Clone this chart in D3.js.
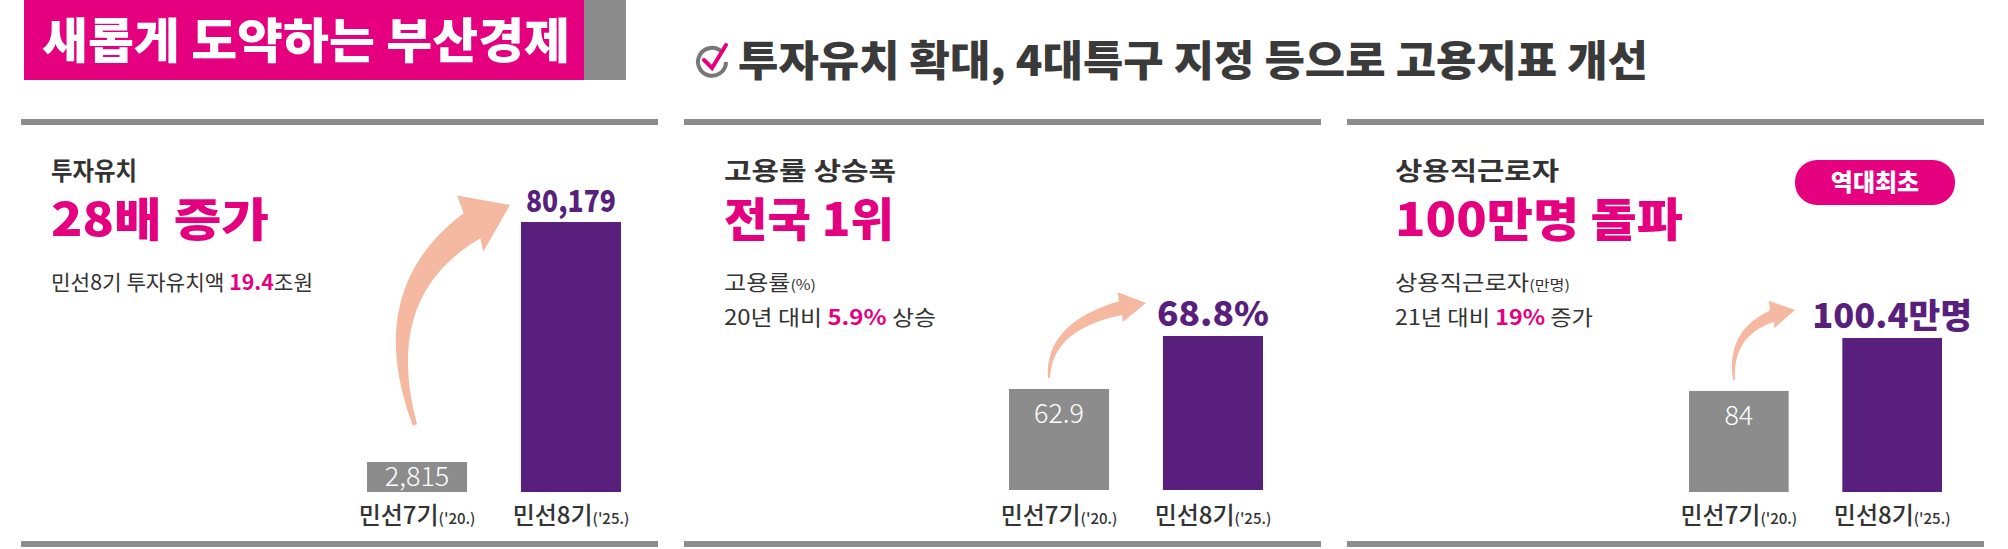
<!DOCTYPE html>
<html><head><meta charset="utf-8">
<script src="https://cdn.jsdelivr.net/npm/d3@7"></script>
<style>
body{margin:0;background:#fff;}
text{font-family:"Noto Sans CJK KR","Noto Sans",sans-serif;}
</style></head>
<body>
<svg id="chart" width="2008" height="549"></svg>
<script>
// data
var categories = ["민선7기", "민선8기"];
var catYears = ["('20.)", "('25.)"];
var investValues = [2815, 80179];
var investLabels = ["2,815", "80,179"];
var employValues = [62.9, 68.8];
var employLabels = ["62.9", "68.8%"];
var workerValues = [84, 100.4];
var workerLabels = ["84", "100.4만명"];

var pink = "#e4007f", purple = "#581f7c", gray = "#8c8c8c", dark = "#333", peach = "#f4b9a0";

var svg = d3.select("#chart");

// header
svg.append("rect").attr("x", 24).attr("y", 0).attr("width", 560).attr("height", 80).attr("fill", pink);
svg.append("rect").attr("x", 584).attr("y", 0).attr("width", 42).attr("height", 80).attr("fill", gray);
svg.append("text").attr("x", 42).attr("y", 58).attr("fill", "#fff")
  .attr("font-size", 48).attr("font-weight", 900)
  .attr("textLength", 528).attr("lengthAdjust", "spacingAndGlyphs")
  .text("새롭게 도약하는 부산경제");

// check icon
svg.append("path").attr("d", "M722,52 A14,14 0 1 0 726,62").attr("fill", "none")
  .attr("stroke", "#777").attr("stroke-width", 4);
svg.append("path").attr("d", "M704,60 L712,68 L726,45").attr("fill", "none")
  .attr("stroke", pink).attr("stroke-width", 4).attr("stroke-linecap", "round");
svg.append("text").attr("x", 738).attr("y", 76).attr("fill", "#3a3a3a")
  .attr("font-size", 42).attr("font-weight", 900)
  .attr("textLength", 910).attr("lengthAdjust", "spacingAndGlyphs")
  .text("투자유치 확대, 4대특구 지정 등으로 고용지표 개선");

// curved arrow shape
function arrow(g, p0, c, p1, shaftW, headL, headW) {
  function bez(t) {
    var u = 1 - t;
    return [u*u*p0[0] + 2*u*t*c[0] + t*t*p1[0], u*u*p0[1] + 2*u*t*c[1] + t*t*p1[1]];
  }
  var end = bez(1), pre = bez(0.97);
  var dx = end[0] - pre[0], dy = end[1] - pre[1], len = Math.hypot(dx, dy);
  dx /= len; dy /= len;
  var base = [end[0] - dx*headL, end[1] - dy*headL];
  var tEnd = 1, best = 1e9;
  for (var t = 0.5; t <= 1; t += 0.005) {
    var q = bez(t), dd = Math.hypot(q[0]-base[0], q[1]-base[1]);
    if (dd < best) { best = dd; tEnd = t; }
  }
  var left = [], right = [], n = 40;
  for (var i = 0; i <= n; i++) {
    var tt = tEnd * i / n, a = bez(tt), b = bez(Math.min(tt + 0.01, 1));
    var tx = b[0]-a[0], ty = b[1]-a[1], l = Math.hypot(tx, ty);
    var nx = -ty/l, ny = tx/l, w = shaftW * (0.15 + 0.85 * i / n) / 2;
    left.push([a[0] + nx*w, a[1] + ny*w]);
    right.push([a[0] - nx*w, a[1] - ny*w]);
  }
  var nx2 = -dy, ny2 = dx;
  var pts = left.concat([[base[0] + nx2*headW/2, base[1] + ny2*headW/2], end,
    [base[0] - nx2*headW/2, base[1] - ny2*headW/2]], right.reverse());
  g.append("path").attr("d", d3.line()(pts) + "Z").attr("fill", peach);
}

function panel(opt) {
  var g = svg.append("g");
  g.append("rect").attr("x", opt.x0).attr("y", 119).attr("width", opt.x1 - opt.x0).attr("height", 6).attr("fill", gray);
  g.append("rect").attr("x", opt.x0).attr("y", 541).attr("width", opt.x1 - opt.x0).attr("height", 6).attr("fill", gray);
  var tx = opt.tx;
  g.append("text").attr("x", tx).attr("y", 180).attr("font-size", 25).attr("font-weight", 700).attr("fill", dark)
    .attr("textLength", opt.t1w).attr("lengthAdjust", "spacingAndGlyphs").text(opt.t1);
  g.append("text").attr("x", tx).attr("y", 236).attr("font-size", 46).attr("font-weight", 900).attr("fill", pink)
    .attr("textLength", opt.t2w).attr("lengthAdjust", "spacingAndGlyphs").text(opt.t2);
  opt.lines.forEach(function(ln, i) {
    var t = g.append("text").attr("x", tx).attr("y", 290 + i * 35).attr("font-size", 21).attr("fill", dark)
      .attr("textLength", ln.w).attr("lengthAdjust", "spacingAndGlyphs");
    ln.parts.forEach(function(p) {
      t.append("tspan").attr("fill", p.c || dark).attr("font-weight", p.b ? 700 : 400)
        .attr("font-size", p.s || 21).text(p.t);
    });
  });

  var x = d3.scaleBand().domain(categories).range([opt.bx0, opt.bx1]).paddingInner(0.35).paddingOuter(0);
  var y = d3.scaleLinear().domain(opt.domain).range([opt.base, opt.top]);
  g.selectAll(".bar").data(opt.values).enter().append("rect")
    .attr("x", function(d, i) { return x(categories[i]); })
    .attr("y", function(d) { return y(d); })
    .attr("width", x.bandwidth())
    .attr("height", function(d) { return opt.base - y(d); })
    .attr("fill", function(d, i) { return i === 0 ? gray : purple; });

  // value labels
  g.append("text").attr("x", x(categories[0]) + x.bandwidth() / 2).attr("y", y(opt.values[0]) + opt.inOff)
    .attr("text-anchor", "middle").attr("fill", "#fff").attr("font-size", 27).attr("font-weight", 300)
    .text(opt.labels[0]);
  g.append("text").attr("x", x(categories[1]) + x.bandwidth() / 2).attr("y", y(opt.values[1]) - 10)
    .attr("text-anchor", "middle").attr("fill", purple).attr("font-size", opt.labSize).attr("font-weight", 900)
    .attr("textLength", opt.labW).attr("lengthAdjust", "spacingAndGlyphs")
    .text(opt.labels[1]);

  // category axis labels
  categories.forEach(function(c, i) {
    var t = g.append("text").attr("x", x(c) + x.bandwidth() / 2).attr("y", 524)
      .attr("text-anchor", "middle").attr("fill", dark).attr("font-size", 24).attr("font-weight", 500);
    t.append("tspan").text(c);
    t.append("tspan").attr("font-size", 15).text(catYears[i]);
  });

  var a = opt.arrow;
  arrow(g, a.p0, a.c, a.p1, a.sw, a.hl, a.hw);
  return g;
}

panel({
  x0: 21, x1: 658, tx: 51,
  t1: "투자유치", t1w: 86, t2: "28배 증가", t2w: 218,
  lines: [{ w: 262, parts: [{ t: "민선8기 투자유치액 " }, { t: "19.4", c: pink, b: 1 }, { t: "조원" }] }],
  values: investValues, labels: investLabels, domain: [-6855, 80179],
  bx0: 367, bx1: 621, base: 492, top: 222, inOff: 24, labSize: 30, labW: 90,
  arrow: { p0: [415, 425], c: [365, 270], p1: [510, 205], sw: 30, hl: 44, hw: 62 }
});

panel({
  x0: 684, x1: 1321, tx: 724,
  t1: "고용률 상승폭", t1w: 172, t2: "전국 1위", t2w: 170,
  lines: [{ w: 92, parts: [{ t: "고용률" }, { t: "(%)", s: 14 }] },
          { w: 212, parts: [{ t: "20년 대비 " }, { t: "5.9%", c: pink, b: 1 }, { t: " 상승" }] }],
  values: employValues, labels: employLabels, domain: [51.65, 68.8],
  bx0: 1009, bx1: 1263, base: 490, top: 336, inOff: 34, labSize: 34, labW: 112,
  arrow: { p0: [1049, 378], c: [1048, 318], p1: [1146, 303], sw: 14, hl: 26, hw: 30 }
});

panel({
  x0: 1347, x1: 1984, tx: 1395,
  t1: "상용직근로자", t1w: 164, t2: "100만명 돌파", t2w: 288,
  lines: [{ w: 175, parts: [{ t: "상용직근로자" }, { t: "(만명)", s: 14 }] },
          { w: 198, parts: [{ t: "21년 대비 " }, { t: "19%", c: pink, b: 1 }, { t: " 증가" }] }],
  values: workerValues, labels: workerLabels, domain: [52.7, 100.4],
  bx0: 1689, bx1: 1942, base: 492, top: 338, inOff: 34, labSize: 34, labW: 160,
  arrow: { p0: [1734, 380], c: [1728, 322], p1: [1795, 310], sw: 12, hl: 24, hw: 28 }
});

// badge
svg.append("rect").attr("x", 1795).attr("y", 160).attr("width", 160).attr("height", 45).attr("rx", 22)
  .attr("fill", pink);
svg.append("text").attr("x", 1875).attr("y", 191).attr("text-anchor", "middle").attr("fill", "#fff")
  .attr("font-size", 24).attr("font-weight", 900).text("역대최초");
</script>
</body></html>
